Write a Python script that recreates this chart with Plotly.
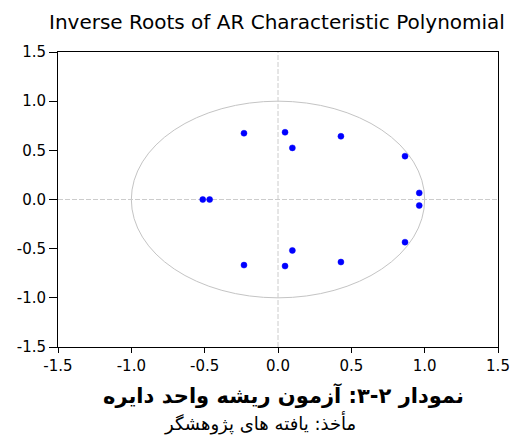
import plotly.graph_objects as go

root_real = [-0.232, 0.048, 0.429, 0.098, 0.866, 0.963, 0.963, 0.866, 0.098, 0.429, 0.048, -0.232, -0.513, -0.466]
root_imag = [0.674, 0.684, 0.643, 0.525, 0.441, 0.067, -0.061, -0.434, -0.518, -0.636, -0.677, -0.667, 0.0, 0.0]

tick_vals = [-1.5, -1.0, -0.5, 0.0, 0.5, 1.0, 1.5]
tick_text = ["-1.5", "-1.0", "-0.5", "0.0", "0.5", "1.0", "1.5"]

title_text = "Inverse Roots of AR Characteristic Polynomial"
caption_text = "نمودار ۲-۳: آزمون ریشه واحد دایره"
source_text = "مأخذ: یافته های پژوهشگر"

fig = go.Figure()
fig.add_trace(go.Scatter(
    x=root_real, y=root_imag, mode="markers",
    marker=dict(color="#0000ff", size=6, line=dict(width=0.5, color="#0000ff")),
    showlegend=False, hoverinfo="x+y",
))

grid_col = "#cccccc"
fig.add_shape(type="circle", xref="x", yref="y", x0=-1, y0=-1, x1=1, y1=1,
              line=dict(color="#c4c4c4", width=1), layer="below")
fig.add_shape(type="line", xref="x", yref="y", x0=-1.5, x1=1.5, y0=0, y1=0,
              line=dict(color=grid_col, width=1, dash="5px,2px"), layer="below")
fig.add_shape(type="line", xref="x", yref="y", x0=0, x1=0, y0=-1.5, y1=1.5,
              line=dict(color=grid_col, width=1, dash="5px,2px"), layer="below")

tick_font = dict(family="DejaVu Sans", size=15, color="black")
axis_common = dict(
    range=[-1.5, 1.5], tickvals=tick_vals, ticktext=tick_text,
    showgrid=False, zeroline=False, showline=True, mirror=True,
    linecolor="black", linewidth=1, ticks="outside",
    tickcolor="black", tickfont=tick_font, automargin=False,
)

fig.update_layout(
    width=520, height=445,
    margin=dict(l=50, r=30, t=44, b=106),
    paper_bgcolor="white", plot_bgcolor="white",
    xaxis=dict(**axis_common, ticklen=5),
    yaxis=dict(**axis_common, ticklen=8),
    annotations=[
        dict(text=title_text, xref="paper", yref="paper", x=0.498, y=1, yshift=30,
             xanchor="center", yanchor="middle", showarrow=False,
             font=dict(family="DejaVu Sans", size=20, color="black")),
        dict(text="<b>" + caption_text + "</b>", xref="paper", yref="paper", x=0.512, y=0, yshift=-48,
             xanchor="center", yanchor="middle", showarrow=False,
             font=dict(family="DejaVu Sans", size=21, color="black")),
        dict(text=source_text, xref="paper", yref="paper", x=0.459, y=0, yshift=-76,
             xanchor="center", yanchor="middle", showarrow=False,
             font=dict(family="DejaVu Sans", size=18, color="black")),
    ],
)

fig.write_html("out.html")
